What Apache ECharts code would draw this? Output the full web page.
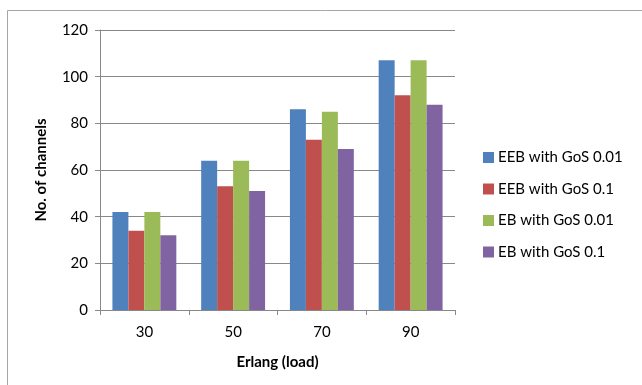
<!DOCTYPE html>
<html><head><meta charset="utf-8">
<script src="https://cdn.jsdelivr.net/npm/echarts@6/dist/echarts.min.js"></script>
<style>html,body{margin:0;padding:0;background:#fff}#c{width:642px;height:385px}</style>
</head><body><div id="c"></div>
<script>
const categories = ['30', '50', '70', '90'];
const seriesNames = ['EEB with GoS 0.01', 'EEB with GoS 0.1', 'EB with GoS 0.01', 'EB with GoS 0.1'];
const eebGos001 = [42, 64, 86, 107];
const eebGos01 = [34, 53, 73, 92];
const ebGos001 = [42, 64, 85, 107];
const ebGos01 = [32, 51, 69, 88];
const yTicks = [0, 20, 40, 60, 80, 100, 120];
const colors = ['#4F81BD', '#C0504D', '#9BBB59', '#8064A2'];
const values = [eebGos001, eebGos01, ebGos001, ebGos01];
const font = 'Lato';

const chart = echarts.init(document.getElementById('c'), null, {renderer: 'canvas'});
chart.setOption({
  animation: false,
  backgroundColor: '#fff',
  textStyle: {fontFamily: font},
  graphic: [{type: 'rect', shape: {x: 7.5, y: 10.5, width: 800, height: 500}, style: {fill: 'none', stroke: '#a6a6a6', lineWidth: 1}, silent: true}],
  grid: {left: 100, right: 187, top: 30, bottom: 75, containLabel: false},
  legend: {
    orient: 'vertical', left: 478, top: 145, itemWidth: 11, itemHeight: 11, itemGap: 16.5,
    icon: 'rect', textStyle: {fontFamily: font, fontSize: 15, color: '#000', padding: [0, 0, 0, -1]},
    data: seriesNames
  },
  xAxis: {
    type: 'category', data: categories,
    name: 'Erlang (load)', nameLocation: 'middle', nameGap: 45,
    nameTextStyle: {fontFamily: font, fontSize: 15, fontWeight: 'bold', color: '#000'},
    axisLine: {lineStyle: {color: '#888', width: 1}},
    axisTick: {show: true, length: 5, lineStyle: {color: '#888'}},
    axisLabel: {fontFamily: font, fontSize: 15, color: '#000', margin: 15}
  },
  yAxis: {
    type: 'value', min: 0, max: 120, interval: 20,
    name: 'No. of channels', nameLocation: 'middle', nameGap: 51, nameRotate: 90,
    nameTextStyle: {fontFamily: font, fontSize: 15, fontWeight: 'bold', color: '#000'},
    axisLine: {show: true, lineStyle: {color: '#888', width: 1}},
    axisTick: {show: true, length: 5, lineStyle: {color: '#888'}},
    splitLine: {lineStyle: {color: '#888', width: 1}},
    axisLabel: {fontFamily: font, fontSize: 15, color: '#000', margin: 12,
      formatter: v => yTicks.includes(v) ? String(v) : ''}
  },
  series: seriesNames.map((n, i) => ({
    name: n, type: 'bar', data: values[i], barGap: '0%', barCategoryGap: '28%',
    itemStyle: {color: colors[i]}
  }))
});
</script></body></html>
